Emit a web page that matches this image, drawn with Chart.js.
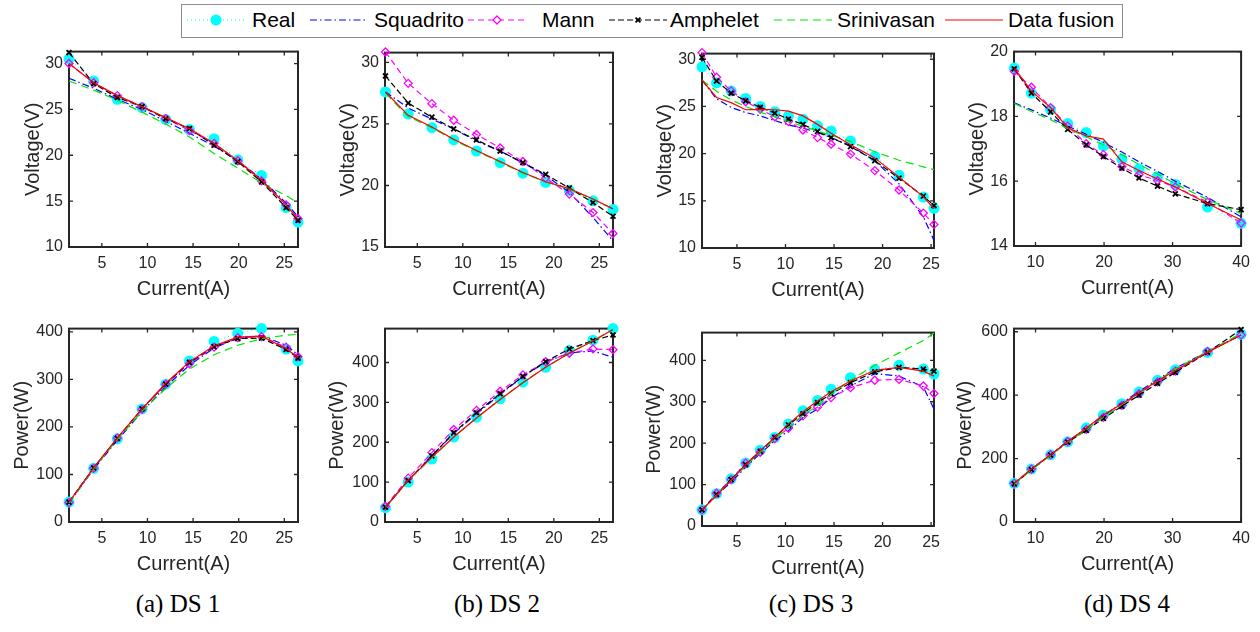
<!DOCTYPE html>
<html lang="en">
<head>
  <meta charset="UTF-8" />
  <title>Voltage and power fits DS 1-4</title>
  <script src="https://cdn.jsdelivr.net/npm/chart.js"></script>
  <style>
    body {
      margin: 0;
      background: #fff;
      width: 1260px;
      height: 632px;
      position: relative;
      overflow: hidden;
      font-family: "Liberation Sans", Arial, sans-serif;
    }
    canvas.plot { position: absolute; }
    .legend-box {
      position: absolute;
      left: 181px;
      top: 4px;
      width: 940px;
      height: 32px;
      border: 1.5px solid #8c8c8c;
    }
    .sample { position: absolute; top: 5px; }
    .label {
      position: absolute;
      top: 8px;
      font-size: 21px;
      line-height: 24px;
      color: #000;
    }
    .caption {
      position: absolute;
      top: 590px;
      width: 200px;
      text-align: center;
      font-family: "Liberation Serif", "Times New Roman", serif;
      font-size: 25px;
      color: #000;
    }
  </style>
</head>
<body>
  <div class="legend-box"></div>
  <div id="legend"></div>
  <div class="caption" style="left:78px">(a) DS 1</div>
  <div class="caption" style="left:397px">(b) DS 2</div>
  <div class="caption" style="left:711px">(c) DS 3</div>
  <div class="caption" style="left:1027px">(d) DS 4</div>

  <script>
    const seriesNames = ["Real", "Squadrito", "Mann", "Amphelet", "Srinivasan", "Data fusion"];

    // DS 1
    const ds1Current = [1.4, 4.1, 6.7, 9.4, 12.0, 14.6, 17.3, 19.9, 22.5, 25.2, 26.5];
    const ds1VoltReal = [30.5, 28.1, 26.1, 25.2, 23.9, 22.8, 21.8, 19.5, 17.8, 14.3, 12.7];
    const ds1VoltSquadrito = [28.4, 27.3, 26.1, 25.0, 23.7, 22.4, 21.0, 19.4, 17.4, 14.8, 13.3];
    const ds1VoltMann = [30.0, 27.9, 26.5, 25.3, 24.0, 22.7, 21.3, 19.4, 17.2, 14.6, 13.1];
    const ds1VoltAmphelet = [31.2, 27.8, 26.3, 25.3, 24.0, 22.9, 21.1, 19.3, 17.1, 14.3, 12.9];
    const ds1VoltSrinivasan = [28.1, 27.1, 26.0, 24.7, 23.4, 22.0, 20.2, 18.6, 17.0, 15.6, 14.8];
    const ds1VoltFusion = [30.0, 27.9, 26.5, 25.3, 24.1, 22.9, 21.3, 19.4, 17.3, 14.6, 13.0];
    const ds1PowReal = [42, 113, 175, 238, 290, 339, 380, 397, 407, 364, 339];
    const ds1PowSquadrito = [40, 111, 172, 232, 285, 330, 366, 387, 392, 372, 352];
    const ds1PowMann = [41, 113, 177, 237, 290, 333, 368, 388, 390, 368, 348];
    const ds1PowAmphelet = [42, 114, 176, 238, 290, 336, 369, 386, 387, 363, 345];
    const ds1PowSrinivasan = [40, 112, 174, 233, 281, 322, 352, 372, 386, 393, 395];
    const ds1PowFusion = [42, 114, 177, 238, 292, 337, 371, 389, 391, 365, 346];

    // DS 2
    const ds2Current = [1.5, 4.0, 6.6, 9.0, 11.5, 14.1, 16.6, 19.1, 21.7, 24.3, 26.5];
    const ds2VoltReal = [27.6, 25.8, 24.7, 23.7, 22.8, 21.85, 21.0, 20.25, 19.6, 18.75, 18.05];
    const ds2VoltSquadrito = [27.6, 26.3, 25.4, 24.6, 23.6, 22.8, 21.85, 20.8, 19.45, 17.4, 15.5];
    const ds2VoltMann = [30.85, 28.3, 26.65, 25.3, 24.15, 23.05, 21.95, 20.6, 19.3, 17.8, 16.1];
    const ds2VoltAmphelet = [28.9, 26.7, 25.55, 24.6, 23.7, 22.8, 21.85, 20.9, 19.8, 18.6, 17.5];
    const ds2VoltSrinivasan = [27.5, 25.6, 24.7, 23.7, 22.8, 21.9, 21.0, 20.3, 19.7, 18.9, 18.1];
    const ds2VoltFusion = [27.6, 25.7, 24.75, 23.75, 22.85, 21.95, 21.05, 20.3, 19.75, 18.9, 18.1];
    const ds2PowReal = [36, 100, 158, 213, 263, 309, 351, 388, 430, 456, 485];
    const ds2PowSquadrito = [37, 104, 166, 222, 271, 320, 365, 401, 424, 429, 413];
    const ds2PowMann = [39, 110, 174, 232, 280, 328, 369, 402, 423, 434, 432];
    const ds2PowAmphelet = [37, 104, 166, 224, 274, 322, 365, 402, 434, 455, 469];
    const ds2PowSrinivasan = [37, 104, 162, 213, 261, 308, 350, 388, 424, 455, 482];
    const ds2PowFusion = [37, 105, 162, 213, 261, 307, 349, 388, 423, 454, 483];

    // DS 3
    const ds3Current = [1.4, 2.9, 4.4, 5.9, 7.4, 8.9, 10.3, 11.8, 13.3, 14.7, 16.7, 19.2, 21.7, 24.2, 25.3];
    const ds3VoltReal = [29.2, 27.5, 26.65, 25.85, 25.0, 24.45, 24.0, 23.65, 22.95, 22.4, 21.35, 19.7, 17.7, 15.4, 14.2];
    const ds3VoltSquadrito = [27.8, 25.8, 24.9, 24.35, 24.0, 23.5, 23.05, 22.7, 22.25, 21.7, 20.85, 19.25, 16.8, 13.3, 10.8];
    const ds3VoltMann = [30.7, 28.1, 26.65, 25.5, 24.7, 23.9, 23.4, 22.5, 21.7, 21.0, 19.95, 18.2, 16.15, 13.7, 12.5];
    const ds3VoltAmphelet = [30.2, 27.7, 26.4, 25.6, 24.9, 24.3, 23.65, 23.1, 22.35, 21.7, 20.75, 19.25, 17.4, 15.5, 14.5];
    const ds3VoltSrinivasan = [27.8, 26.6, 25.7, 25.0, 24.4, 23.9, 23.4, 22.9, 22.4, 21.95, 21.3, 20.2, 19.3, 18.6, 18.3];
    const ds3VoltFusion = [27.8, 25.95, 25.4, 24.65, 24.7, 24.65, 24.5, 24.0, 23.1, 22.15, 20.95, 19.55, 17.5, 15.45, 14.15];
    const ds3PowReal = [39, 78, 114, 152, 183, 214, 246, 278, 303, 330, 358, 378, 388, 379, 367];
    const ds3PowSquadrito = [39, 74, 106, 142, 175, 206, 230, 262, 282, 310, 338, 368, 362, 336, 282];
    const ds3PowMann = [39, 79, 112, 152, 178, 211, 236, 266, 287, 310, 334, 352, 354, 338, 320];
    const ds3PowAmphelet = [39, 76, 112, 148, 180, 214, 244, 271, 298, 319, 346, 372, 383, 379, 374];
    const ds3PowSrinivasan = [39, 75, 110, 146, 178, 210, 238, 268, 290, 318, 352, 388, 418, 448, 466];
    const ds3PowFusion = [39, 74, 110, 148, 182, 214, 246, 276, 302, 324, 350, 376, 383, 374, 362];

    // DS 4
    const ds4Current = [6.9, 9.4, 12.2, 14.7, 17.4, 19.9, 22.6, 25.1, 27.8, 30.4, 35.1, 40.0];
    const ds4VoltReal = [19.49, 18.72, 18.21, 17.78, 17.5, 17.09, 16.68, 16.38, 16.14, 15.9, 15.2, 14.7];
    const ds4VoltSquadrito = [18.42, 18.2, 17.95, 17.7, 17.45, 17.2, 16.9, 16.6, 16.3, 16.0, 15.5, 14.9];
    const ds4VoltMann = [19.39, 18.9, 18.27, 17.7, 17.16, 16.82, 16.45, 16.2, 16.02, 15.82, 15.36, 14.71];
    const ds4VoltAmphelet = [19.47, 18.72, 18.14, 17.6, 17.12, 16.76, 16.4, 16.1, 15.85, 15.61, 15.31, 15.12];
    const ds4VoltSrinivasan = [18.4, 18.15, 17.9, 17.62, 17.37, 17.12, 16.82, 16.52, 16.22, 15.92, 15.43, 15.0];
    const ds4VoltFusion = [19.49, 18.78, 18.27, 17.65, 17.4, 17.3, 16.6, 16.33, 16.07, 15.82, 15.31, 14.8];
    const ds4PowReal = [122, 167, 212, 253, 297, 337, 373, 410, 447, 480, 535, 592];
    const ds4PowSquadrito = [120, 167, 212, 255, 295, 335, 375, 412, 449, 485, 537, 590];
    const ds4PowMann = [122, 167, 212, 254, 292, 330, 368, 405, 442, 476, 538, 590];
    const ds4PowAmphelet = [120, 165, 211, 252, 289, 327, 365, 400, 437, 472, 535, 607];
    const ds4PowSrinivasan = [118, 165, 210, 252, 290, 330, 370, 408, 446, 483, 537, 595];
    const ds4PowFusion = [122, 167, 212, 254, 296, 338, 372, 408, 445, 478, 535, 590];

    // tick labels
    const currentTicks25 = [5, 10, 15, 20, 25];
    const currentTicks40 = [10, 20, 30, 40];
    const voltTicksDs1 = [10, 15, 20, 25, 30];
    const voltTicksDs2 = [15, 20, 25, 30];
    const voltTicksDs3 = [10, 15, 20, 25, 30];
    const voltTicksDs4 = [14, 16, 18, 20];
    const powTicks400 = [0, 100, 200, 300, 400];
    const powTicks600 = [0, 200, 400, 600];

    // line styles, same order as seriesNames
    const seriesStyles = [
      { color: "#00ffff", width: 1, dash: [1, 3], marker: "circle", radius: 5.5, fill: "#00ffff", mWidth: 0 },
      { color: "#0000ff", width: 1.2, dash: [7, 3, 1.5, 3] },
      { color: "#ff00ff", width: 1.2, dash: [6, 4], marker: "rectRot", radius: 4, fill: "rgba(0,0,0,0)", mWidth: 1.3 },
      { color: "#000000", width: 1.2, dash: [6, 3], marker: "crossRot", radius: 3.5, fill: "#000", mWidth: 1.8 },
      { color: "#00e600", width: 1.2, dash: [8, 5] },
      { color: "#ff0000", width: 1.2, dash: [] }
    ];

    Chart.defaults.font.family = '"Liberation Sans", Arial, sans-serif';
    Chart.defaults.color = "#262626";
    Chart.defaults.animation = false;

    // MATLAB style box with inward ticks, drawn under the data
    const matlabFrame = {
      id: "matlabFrame",
      beforeDatasetsDraw(chart) {
        const { ctx, chartArea: a } = chart;
        const xs = chart.scales.x, ys = chart.scales.y;
        ctx.save();
        ctx.strokeStyle = "#262626";
        ctx.lineWidth = 1.3;
        ctx.beginPath();
        xs.ticks.forEach(t => {
          const px = xs.getPixelForValue(t.value);
          ctx.moveTo(px, a.bottom); ctx.lineTo(px, a.bottom - 4);
          ctx.moveTo(px, a.top); ctx.lineTo(px, a.top + 4);
        });
        ys.ticks.forEach(t => {
          const py = ys.getPixelForValue(t.value);
          ctx.moveTo(a.left, py); ctx.lineTo(a.left + 4, py);
          ctx.moveTo(a.right, py); ctx.lineTo(a.right - 4, py);
        });
        ctx.stroke();
        ctx.lineWidth = 2;
        ctx.strokeRect(a.left, a.top, a.right - a.left, a.bottom - a.top);
        ctx.restore();
      }
    };

    function makeDatasets(current, series) {
      return seriesNames.map((name, i) => {
        const s = seriesStyles[i];
        return {
          label: name,
          data: current.map((x, k) => ({ x: x, y: series[i][k] })),
          borderColor: s.color,
          borderWidth: s.width,
          borderDash: s.dash,
          pointStyle: s.marker || "circle",
          pointRadius: s.marker ? s.radius : 0,
          pointBackgroundColor: s.fill || s.color,
          pointBorderColor: s.color,
          pointBorderWidth: s.mWidth || 0,
          order: seriesNames.length - i,
          clip: false,
          tension: 0
        };
      });
    }

    const PAD_TOP = 14, PAD_RIGHT = 14, X_AXIS_H = 54;

    const panels = [
      { rect: [69, 50, 298, 247], yw: 48, xr: [1.4, 26.5], yr: [10, 31.3], xt: currentTicks25, yt: voltTicksDs1, yTitle: "Voltage(V)", cur: ds1Current,
        series: [ds1VoltReal, ds1VoltSquadrito, ds1VoltMann, ds1VoltAmphelet, ds1VoltSrinivasan, ds1VoltFusion] },
      { rect: [69, 327, 298, 522], yw: 59, xr: [1.4, 26.5], yr: [0, 407], xt: currentTicks25, yt: powTicks400, yTitle: "Power(W)", cur: ds1Current,
        series: [ds1PowReal, ds1PowSquadrito, ds1PowMann, ds1PowAmphelet, ds1PowSrinivasan, ds1PowFusion] },
      { rect: [385, 51, 613, 247], yw: 48.5, xr: [1.45, 26.5], yr: [15, 30.8], xt: currentTicks25, yt: voltTicksDs2, yTitle: "Voltage(V)", cur: ds2Current,
        series: [ds2VoltReal, ds2VoltSquadrito, ds2VoltMann, ds2VoltAmphelet, ds2VoltSrinivasan, ds2VoltFusion] },
      { rect: [385, 327, 613, 522], yw: 59.5, xr: [1.45, 26.5], yr: [0, 485], xt: currentTicks25, yt: powTicks400, yTitle: "Power(W)", cur: ds2Current,
        series: [ds2PowReal, ds2PowSquadrito, ds2PowMann, ds2PowAmphelet, ds2PowSrinivasan, ds2PowFusion] },
      { rect: [702, 52, 934, 248], yw: 49, xr: [1.4, 25.3], yr: [10, 30.6], xt: currentTicks25, yt: voltTicksDs3, yTitle: "Voltage(V)", cur: ds3Current,
        series: [ds3VoltReal, ds3VoltSquadrito, ds3VoltMann, ds3VoltAmphelet, ds3VoltSrinivasan, ds3VoltFusion] },
      { rect: [702, 331, 934, 526], yw: 59.5, xr: [1.4, 25.3], yr: [0, 467], xt: currentTicks25, yt: powTicks400, yTitle: "Power(W)", cur: ds3Current,
        series: [ds3PowReal, ds3PowSquadrito, ds3PowMann, ds3PowAmphelet, ds3PowSrinivasan, ds3PowFusion] },
      { rect: [1014, 50, 1243, 246], yw: 48.5, xr: [6.86, 40], yr: [14, 20], xt: currentTicks40, yt: voltTicksDs4, yTitle: "Voltage(V)", cur: ds4Current,
        series: [ds4VoltReal, ds4VoltSquadrito, ds4VoltMann, ds4VoltAmphelet, ds4VoltSrinivasan, ds4VoltFusion] },
      { rect: [1014, 327, 1243, 522], yw: 60.5, xr: [6.86, 40], yr: [0, 610], xt: currentTicks40, yt: powTicks600, yTitle: "Power(W)", cur: ds4Current,
        series: [ds4PowReal, ds4PowSquadrito, ds4PowMann, ds4PowAmphelet, ds4PowSrinivasan, ds4PowFusion] }
    ];

    panels.forEach(p => {
      const [l, t, r, b] = p.rect;
      const yw = Math.round(p.yw);
      const cv = document.createElement("canvas");
      cv.className = "plot";
      cv.width = yw + (r - l) + PAD_RIGHT;
      cv.height = PAD_TOP + (b - t) + X_AXIS_H;
      cv.style.left = (l - yw) + "px";
      cv.style.top = (t - PAD_TOP) + "px";
      document.body.appendChild(cv);

      new Chart(cv, {
        type: "line",
        data: { datasets: makeDatasets(p.cur, p.series) },
        options: {
          responsive: false,
          devicePixelRatio: 1,
          events: [],
          layout: { padding: { top: PAD_TOP, right: PAD_RIGHT, left: 0, bottom: 0 } },
          plugins: { legend: { display: false }, tooltip: { enabled: false } },
          scales: {
            x: {
              type: "linear",
              min: p.xr[0],
              max: p.xr[1],
              afterBuildTicks: s => { s.ticks = p.xt.map(v => ({ value: v })); },
              afterFit: s => { s.height = X_AXIS_H; },
              grid: { display: false, drawTicks: false },
              border: { display: false },
              ticks: { padding: 7, maxRotation: 0, autoSkip: false, font: { size: 16 }, color: "#262626" },
              title: { display: true, text: "Current(A)", padding: 0, font: { size: 20 }, color: "#262626" }
            },
            y: {
              type: "linear",
              min: p.yr[0],
              max: p.yr[1],
              afterBuildTicks: s => { s.ticks = p.yt.map(v => ({ value: v })); },
              afterFit: s => { s.width = yw; },
              grid: { display: false, drawTicks: false },
              border: { display: false },
              ticks: { padding: 6, autoSkip: false, font: { size: 16 }, color: "#262626" },
              title: { display: true, text: p.yTitle, padding: 0, font: { size: 20 }, color: "#262626" }
            }
          }
        },
        plugins: [matlabFrame]
      });
    });

    // legend: line sample + marker, then the name
    const sampleLeft = [187, 310, 468, 609, 774, 945];
    const labelLeft = [252, 374, 542, 670, 837, 1008];
    const legend = document.getElementById("legend");
    seriesNames.forEach((name, i) => {
      const s = seriesStyles[i];
      const cv = document.createElement("canvas");
      cv.className = "sample";
      cv.width = 58;
      cv.height = 30;
      cv.style.left = sampleLeft[i] + "px";
      legend.appendChild(cv);
      const c = cv.getContext("2d");
      const y = 15, mid = 29;
      c.strokeStyle = s.color;
      c.lineWidth = s.width;
      c.setLineDash(s.dash);
      c.beginPath(); c.moveTo(0, y); c.lineTo(58, y); c.stroke();
      c.setLineDash([]);
      if (s.marker === "circle") {
        c.fillStyle = s.fill;
        c.beginPath(); c.arc(mid, y, s.radius, 0, Math.PI * 2); c.fill();
      } else if (s.marker === "rectRot") {
        c.fillStyle = "#fff";
        c.lineWidth = s.mWidth;
        c.beginPath();
        c.moveTo(mid, y - s.radius); c.lineTo(mid + s.radius, y);
        c.lineTo(mid, y + s.radius); c.lineTo(mid - s.radius, y); c.closePath();
        c.fill(); c.stroke();
      } else if (s.marker === "crossRot") {
        const d = s.radius * 0.7;
        c.lineWidth = s.mWidth;
        c.beginPath();
        c.moveTo(mid - d, y - d); c.lineTo(mid + d, y + d);
        c.moveTo(mid + d, y - d); c.lineTo(mid - d, y + d);
        c.stroke();
      }
      const span = document.createElement("span");
      span.className = "label";
      span.textContent = name;
      span.style.left = labelLeft[i] + "px";
      legend.appendChild(span);
    });
  </script>
</body>
</html>
